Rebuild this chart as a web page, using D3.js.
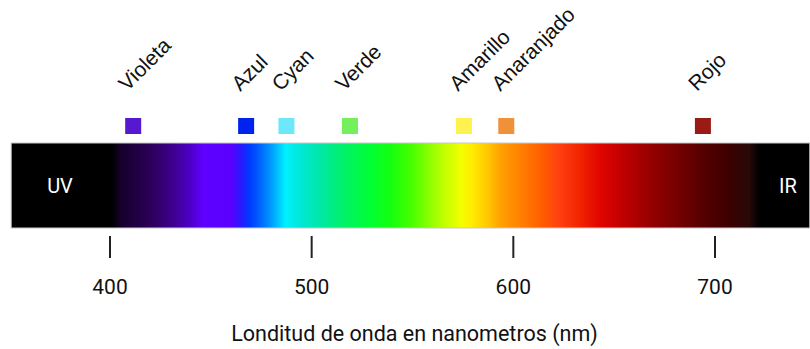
<!DOCTYPE html>
<html>
<head>
<meta charset="utf-8">
<script src="https://cdn.jsdelivr.net/npm/d3@7"></script>
<style>
  body { margin: 0; background: #fff; }
  svg { display: block; }
</style>
</head>
<body>
<svg id="chart" width="810" height="349"></svg>
<script>
// spectrum extent (nm) and colour stops
const spectrumRange = [351, 747];
const stopNm = [351, 401, 405, 420, 430, 440, 446, 460, 465, 469, 474, 479, 487, 494, 504, 514, 529, 539, 549, 559, 566, 574, 579, 588, 593, 603, 613, 623, 633, 643, 653, 668, 683, 693, 707, 717, 722, 747];
const stopColor = ["#000000", "#000000", "#14002a", "#2c0058", "#3c0088", "#4e00c8", "#6000ff", "#5a00ff", "#2a18ff", "#0038ff", "#0060ff", "#0090ff", "#00f0ff", "#00e8d8", "#00e8a8", "#00f070", "#00ff34", "#14ff10", "#44ff00", "#90ff00", "#c4ff00", "#f2ff00", "#ffee00", "#ffc400", "#ffa400", "#ff8200", "#ff6200", "#ff3e10", "#f22400", "#e00400", "#c40000", "#960000", "#720000", "#580000", "#3c0000", "#280808", "#000000", "#000000"];

// named colours above the bar
const colorNames = ["Violeta", "Azul", "Cyan", "Verde", "Amarillo", "Anaranjado", "Rojo"];
const colorNm = [411.5, 467.5, 487.5, 519, 575.5, 596.5, 694];
const colorSwatch = ["#5519cf", "#0022ee", "#6de8f8", "#74f05a", "#fff150", "#f0913a", "#9a1b13"];

const tickValues = [400, 500, 600, 700];
const axisTitle = "Londitud de onda en nanometros (nm)";

const svg = d3.select("#chart");

const x = d3.scaleLinear().domain([400, 700]).range([110, 715]);
const barTop = 143, barH = 85;

// gradient for the spectrum
const grad = svg.append("defs").append("linearGradient")
    .attr("id", "spectrum")
    .attr("gradientUnits", "userSpaceOnUse")
    .attr("x1", x(spectrumRange[0])).attr("x2", x(spectrumRange[1]))
    .attr("y1", 0).attr("y2", 0);

grad.selectAll("stop")
    .data(stopNm)
    .join("stop")
    .attr("offset", d => (d - spectrumRange[0]) / (spectrumRange[1] - spectrumRange[0]))
    .attr("stop-color", (d, i) => stopColor[i]);

svg.append("rect")
    .attr("x", x(spectrumRange[0]))
    .attr("y", barTop)
    .attr("width", x(spectrumRange[1]) - x(spectrumRange[0]))
    .attr("height", barH)
    .attr("fill", "url(#spectrum)")
    .attr("stroke", "#c8c8c8")
    .attr("stroke-width", 1);

// UV / IR
svg.append("text")
    .attr("x", 60).attr("y", barTop + barH / 2 + 7)
    .attr("text-anchor", "middle")
    .attr("font-family", "Roboto")
    .attr("font-size", 20)
    .attr("fill", "#fff")
    .text("UV");

svg.append("text")
    .attr("x", 788).attr("y", barTop + barH / 2 + 7)
    .attr("text-anchor", "middle")
    .attr("font-family", "Roboto")
    .attr("font-size", 20)
    .attr("fill", "#fff")
    .text("IR");

// swatches and rotated names
const sw = 16;
const named = svg.append("g");

named.selectAll("rect")
    .data(colorNm)
    .join("rect")
    .attr("x", d => x(d) - sw / 2)
    .attr("y", 118)
    .attr("width", sw)
    .attr("height", sw)
    .attr("fill", (d, i) => colorSwatch[i]);

named.selectAll("text")
    .data(colorNm)
    .join("text")
    .attr("transform", d => `translate(${x(d) - 6},92) rotate(-45)`)
    .attr("font-family", "Liberation Sans, Arial, sans-serif")
    .attr("font-size", 21)
    .attr("fill", "#111")
    .text((d, i) => colorNames[i]);

// axis
const axis = svg.append("g").attr("transform", "translate(0,236)");

axis.selectAll("line")
    .data(tickValues)
    .join("line")
    .attr("x1", d => x(d)).attr("x2", d => x(d))
    .attr("y1", 0).attr("y2", 22)
    .attr("stroke", "#222")
    .attr("stroke-width", 2);

axis.selectAll("text")
    .data(tickValues)
    .join("text")
    .attr("x", d => x(d))
    .attr("y", 58)
    .attr("text-anchor", "middle")
    .attr("font-family", "Roboto")
    .attr("font-size", 21)
    .attr("fill", "#111")
    .text(d => d);

svg.append("text")
    .attr("x", x(550) + 2)
    .attr("y", 341)
    .attr("text-anchor", "middle")
    .attr("font-family", "Roboto")
    .attr("font-size", 21.5)
    .attr("fill", "#111")
    .text(axisTitle);
</script>
</body>
</html>
